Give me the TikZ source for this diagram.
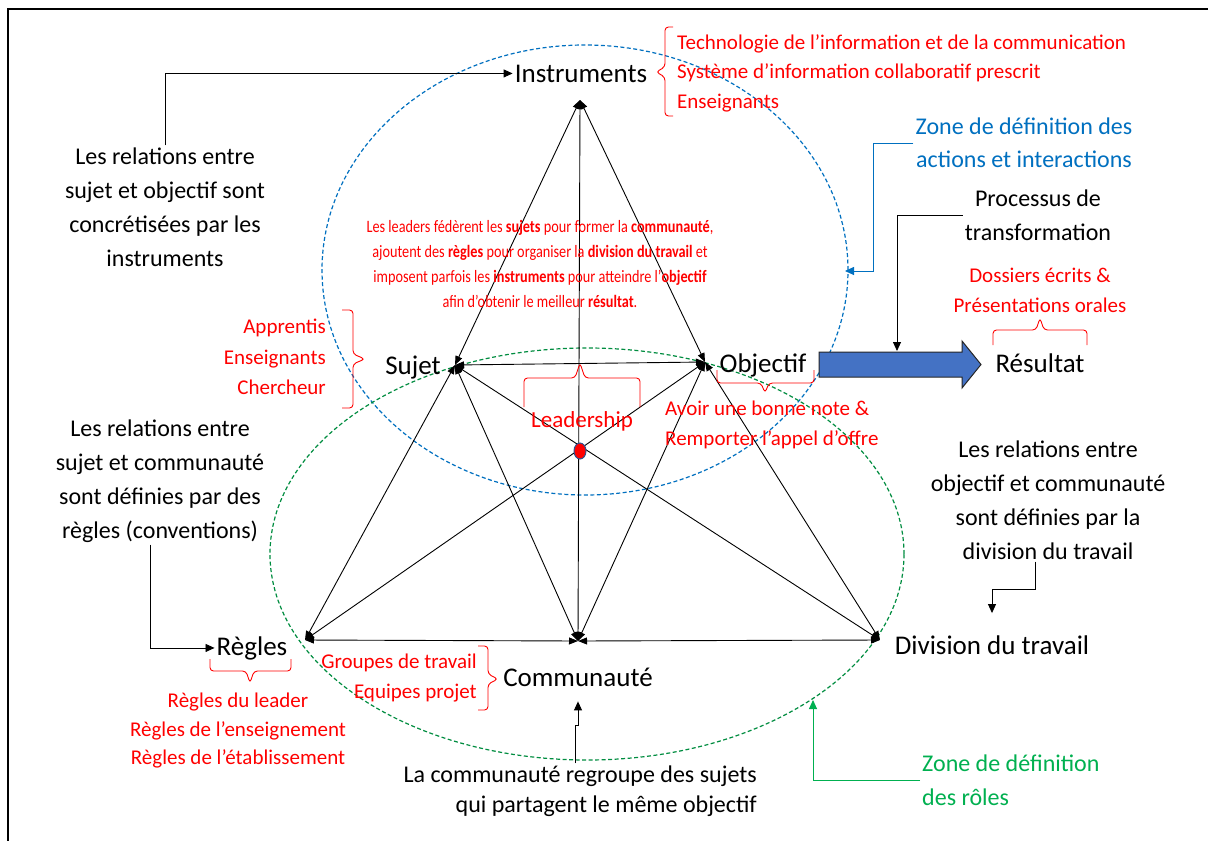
\documentclass[tikz,border=0pt]{standalone}
\usepackage{fontspec}
\setmainfont{Carlito}
\newfontfamily\condfont[FakeStretch=0.82]{Carlito}
\usetikzlibrary{arrows.meta,calc}
\definecolor{zblue}{RGB}{0,112,192}
\definecolor{zgreen}{RGB}{0,176,80}
\definecolor{arrblue}{RGB}{68,114,196}
\definecolor{dotblue}{RGB}{47,82,143}
\newcommand{\fsz}[2]{\fontsize{#1}{#2}\selectfont}
\begin{document}
\begin{tikzpicture}[x=1pt,y=-1pt,
  vlabel/.style={inner sep=2pt, font=\fsz{27}{32}},
  desc/.style={inner sep=2pt, align=center, font=\fsz{24}{34}},
  redlist/.style={text=red, inner sep=2pt, font=\fsz{21}{29.5}},
  edgeline/.style={line width=0.9pt, {Triangle[length=9pt,width=7pt]}-{Triangle[length=9pt,width=7pt]}},
  annot/.style={line width=0.9pt, -{Triangle[length=9pt,width=8pt]}},
  bracered/.style={red, line width=0.9pt, rounded corners=3.5pt},
  zonedash/.style={line width=1.2pt, dash pattern=on 4pt off 2.5pt}
]
\useasboundingbox (0,0) rectangle (1208,841);
\fill[white] (0,0) rectangle (1208,841);
% frame
\draw[line width=2pt] (8,841) -- (8,9) -- (1208,9);

% vertices
\coordinate (vI) at (580,100);
\coordinate (vS) at (455,365);
\coordinate (vO) at (705,362);
\coordinate (vR) at (305,640);
\coordinate (vC) at (578,641);
\coordinate (vD) at (880,640);
\coordinate (vL) at (580,451);

% zones
\draw[zblue, zonedash] (585,270) ellipse [x radius=263pt, y radius=225pt];
\draw[zgreen!80!black, zonedash] (587,554) ellipse [x radius=317pt, y radius=206pt];

% edges
\draw[edgeline] (vI) -- (vS);
\draw[edgeline] (vI) -- (vO);
\draw[edgeline] (vI) -- (vC);
\draw[edgeline] (vS) -- (vO);
\draw[edgeline] (vS) -- (vR);
\draw[edgeline] (vS) -- (vC);
\draw[edgeline] (vS) -- (vD);
\draw[edgeline] (vO) -- (vR);
\draw[edgeline] (vO) -- (vC);
\draw[edgeline] (vO) -- (vD);
\draw[edgeline] (vR) -- (vC);
\draw[edgeline] (vC) -- (vD);

% leadership dot
\filldraw[fill=red, draw=dotblue, line width=1pt] (vL) ellipse [x radius=6pt, y radius=8pt];

% vertex labels
\node[vlabel, anchor=base] (instr) at (581,82) {Instruments};
\node[vlabel, anchor=base] (sujet) at (413,374) {Sujet};
\node[vlabel, anchor=base] (objectif) at (763,372) {Objectif};
\node[vlabel, anchor=base] (resultat) at (1040,372) {Résultat};
\node[vlabel, anchor=base] (regles) at (252,655) {Règles};
\node[vlabel, anchor=base] (comm) at (578,686) {Communauté};
\node[vlabel, anchor=base] (div) at (992,654) {Division du travail};
\node[text=red, inner sep=2pt, font=\fsz{23}{28}, anchor=base] (lead) at (582,427) {Leadership};

% big arrow
\filldraw[fill=arrblue, draw=black!85, line width=1pt]
  (819,352) -- (962,352) -- (962,341) -- (981,364.5) -- (962,388) -- (962,377) -- (819,377) -- cycle;
\coordinate (arrTop) at (897,351);

% descriptive texts
\node[desc] (t1) at (165,207) {Les relations entre\\sujet et objectif sont\\concrétisées par les\\instruments};
\node[desc] (t2) at (160,481) {Les relations entre\\sujet et communauté\\sont définies par des\\règles (conventions)};
\node[desc] (t3) at (1048,500) {Les relations entre\\objectif et communauté\\sont définies par la\\division du travail};
\node[desc] (proc) at (1038,215) {Processus de\\transformation};
\node[desc, text=zblue, font=\fsz{24}{33}] (zb) at (1024,143) {Zone de définition des\\actions et interactions};
\node[desc, text=zgreen, align=left, anchor=west] (zg) at (920,780) {Zone de définition\\des rôles};
\node[desc, align=right, anchor=east, font=\fsz{24}{30}] (cd) at (759,791) {La communauté regroupe des sujets\\qui partagent le même objectif};

% red lists
\node[redlist, align=left, anchor=west] (ilist) at (675,73) {Technologie de l’information et de la communication\\Système d’information collaboratif prescrit\\Enseignants};
\node[redlist, align=right, anchor=east, font=\fsz{21}{30.5}] (slist) at (328,357) {Apprentis\\Enseignants\\Chercheur};
\node[redlist, align=left, anchor=west, font=\fsz{21}{30}] (olist) at (663,425) {Avoir une bonne note \&\\Remporter l’appel d’offre};
\node[redlist, align=center, font=\fsz{21}{30}] (rlist) at (1040,290) {Dossiers écrits \&\\Présentations orales};
\node[redlist, align=center, font=\fsz{21}{28.5}] (glist) at (238,731) {Règles du leader\\Règles de l’enseignement\\Règles de l’établissement};
\node[redlist, align=right, anchor=east, font=\fsz{21}{30}] (clist) at (479,678) {Groupes de travail\\Equipes projet};
\node[text=red, inner sep=2pt, align=center, font=\condfont\fsz{17.4}{25}] (ctext) at (540,264)
  {Les leaders fédèrent les \textbf{sujets} pour former la \textbf{communauté},\\
   ajoutent des \textbf{règles} pour organiser la \textbf{division du travail} et\\
   imposent parfois les \textbf{instruments} pour atteindre l’\textbf{objectif}\\
   afin d’obtenir le meilleur \textbf{résultat}.};

% braces
\draw[bracered] (673,27) -- (665,27) -- (665,67) -- (656,72) -- (665,77) -- (665,116) -- (673,116);
\draw[bracered] (342,310) -- (353,310) -- (353,354) -- (365,359) -- (353,364) -- (353,408) -- (342,408);
\draw[bracered] (524,407) -- (524,378) -- (575,378) -- (580,363) -- (585,378) -- (640,378) -- (640,407);
\draw[bracered] (717,370) -- (717,383) -- (761,383) -- (765,393) -- (769,383) -- (814,383) -- (814,370);
\draw[bracered] (993,345) -- (993,330) -- (1036,330) -- (1040,318) -- (1044,330) -- (1087,330) -- (1087,345);
\draw[bracered] (210,659) -- (210,671) -- (246,671) -- (250,683) -- (254,671) -- (291,671) -- (291,659);
\draw[bracered] (478,646) -- (488,646) -- (488,674) -- (498,679) -- (488,684) -- (488,710) -- (478,710);

% annotation connectors
\coordinate (ebR) at (845,271);
\coordinate (egB) at (813,700);
\draw[annot] (t1.north) |- (instr.west);
\draw[annot] ([xshift=-10pt]t2.south) |- (regles.west);
\draw[annot] ([xshift=-13pt]t3.south) -- ++(0,28) -| ([yshift=20pt]div.north);
\draw[annot] (proc.west) -| (arrTop);
\draw[annot, zblue] (zb.west) -- ++(-40,0) |- (ebR);
\draw[annot, zgreen] (zg.west) -| (egB);
\draw[annot] ([xshift=-5pt]cd.north) |- ([yshift=-37pt]comm.south) -- ([yshift=-13pt]comm.south);
\end{tikzpicture}
\end{document}
